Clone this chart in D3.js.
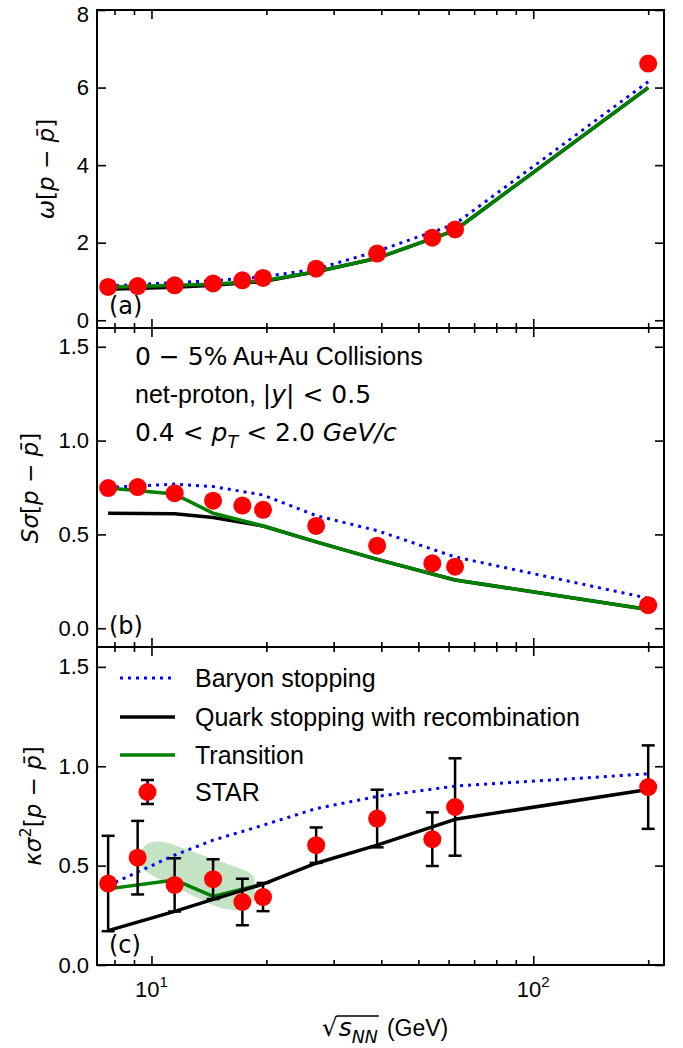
<!DOCTYPE html>
<html>
<head>
<meta charset="utf-8">
<script src="https://cdn.jsdelivr.net/npm/d3@7"></script>
<style>
  body { margin: 0; background: #fff; }
  svg { display: block; }
</style>
</head>
<body>
<div id="figure"></div>
<script>
//----------------------------------------------------------------
// données
//----------------------------------------------------------------
// énergies STAR (GeV)
var starEnergies = [7.7, 9.2, 11.5, 14.5, 17.3, 19.6, 27, 39, 54.4, 62.4, 200];
// énergies des modèles (GeV)
var modelEnergies = [7.7, 11.5, 14.5, 19.6, 27, 39, 62.4, 200];

// (a) omega
var omegaStar       = [0.86, 0.88, 0.90, 0.95, 1.03, 1.09, 1.33, 1.72, 2.13, 2.34, 6.62];
var omegaBaryon     = [0.88, 0.97, 1.02, 1.12, 1.32, 1.78, 2.48, 6.15];
var omegaQuark      = [0.80, 0.85, 0.90, 1.00, 1.25, 1.60, 2.32, 6.00];
var omegaTransition = [0.85, 0.90, 0.93, 1.02, 1.25, 1.60, 2.32, 6.00];

// (b) S sigma
var skewStar       = [0.747, 0.752, 0.72, 0.68, 0.654, 0.631, 0.545, 0.44, 0.346, 0.328, 0.123];
var skewBaryon     = [0.75, 0.768, 0.755, 0.71, 0.60, 0.52, 0.38, 0.16];
var skewQuark      = [0.613, 0.61, 0.59, 0.545, 0.46, 0.367, 0.257, 0.10];
var skewTransition = [0.747, 0.715, 0.613, 0.545, 0.46, 0.367, 0.257, 0.10];

// (c) kappa sigma^2
var kappaStar       = [0.41, 0.54, 0.403, 0.432, 0.317, 0.342, 0.603, 0.737, 0.633, 0.795, 0.895];
var kappaErr        = [0.24, 0.185, 0.134, 0.10, 0.117, 0.071, 0.089, 0.145, 0.135, 0.245, 0.21];
var kappaBaryon     = [0.40, 0.553, 0.628, 0.703, 0.787, 0.848, 0.90, 0.962];
var kappaQuark      = [0.173, 0.27, 0.33, 0.407, 0.512, 0.603, 0.733, 0.883];
var kappaTransition = [0.383, 0.428, 0.345, 0.407];   // 7.7 -> 19.6
// contour de la bande "Transition"
var bandX = [9.5, 9.9, 10.9, 14.5, 17.5, 18.4, 18.7, 18.5, 17.9, 17.2, 15.0, 12.5, 10.4, 9.6, 9.3];
var bandY = [0.59, 0.615, 0.617, 0.533, 0.478, 0.45, 0.40, 0.33, 0.285, 0.272, 0.29, 0.36, 0.435, 0.475, 0.53];

// ticks
var xMajor = [10, 100];
var xMinor = [8, 9, 20, 30, 40, 50, 60, 70, 80, 90, 200];
var legendLabels = ["Baryon stopping", "Quark stopping with recombination", "Transition", "STAR"];

//----------------------------------------------------------------
// mise en page
//----------------------------------------------------------------
var largeurSvg = 683, hauteurSvg = 1048;
var gauche = 97, droite = 664;
var TXT = "'Liberation Sans', Arial, sans-serif";
var MATH = "'DejaVu Sans', sans-serif";
var cBleu = "#0000ff", cVert = "#008000", cNoir = "#000000", cRouge = "#ff0000";

var svg = d3.select("#figure").append("svg")
    .attr("width", largeurSvg)
    .attr("height", hauteurSvg);

var x = d3.scaleLog().domain([7.2, 220]).range([gauche, droite]);

var panneaux = [
  {nom: "(a)", haut: 10, bas: 328, dom: [-0.2, 8], ticks: [0, 2, 4, 6, 8], fmt: d3.format("d"),
   labelX: 54, labelY: 169, labelBase: 314},
  {nom: "(b)", haut: 328, bas: 647, dom: [-0.1, 1.6], ticks: [0, 0.5, 1, 1.5], fmt: d3.format(".1f"),
   labelX: 38, labelY: 488, labelBase: 634},
  {nom: "(c)", haut: 647, bas: 965, dom: [0, 1.6], ticks: [0, 0.5, 1, 1.5], fmt: d3.format(".1f"),
   labelX: 41, labelY: 806, labelBase: 953}
];
panneaux.forEach(function(p){
  p.y = d3.scaleLinear().domain(p.dom).range([p.bas, p.haut]);
});

// texte riche : morceaux avec police / italique / indice / exposant
function texteRiche(sel, morceaux, taille) {
  var decal = 0;
  morceaux.forEach(function(m){
    var cible = m.sub ? 0.28 * taille : (m.sup ? -0.42 * taille : 0);
    var t = sel.append("tspan")
        .text(m.t)
        .attr("font-family", m.f === "t" ? TXT : MATH)
        .attr("font-style", m.i ? "italic" : "normal")
        .attr("font-size", (m.sub || m.sup) ? taille * 0.7 : taille);
    if (cible !== decal) { t.attr("dy", cible - decal); decal = cible; }
  });
}

var ligne = function(yScale, xs){
  return d3.line()
    .x(function(d, i){ return x(xs[i]); })
    .y(function(d){ return yScale(d); });
};

//----------------------------------------------------------------
// axes et cadres
//----------------------------------------------------------------
panneaux.forEach(function(p, k){
  var g = svg.append("g");

  g.append("g").attr("transform", "translate(0," + p.bas + ")")
    .call(d3.axisBottom(x).tickValues(xMajor).tickSize(-9).tickFormat(""));
  g.append("g").attr("transform", "translate(0," + p.bas + ")")
    .call(d3.axisBottom(x).tickValues(xMinor).tickSize(-5).tickFormat(""));
  g.append("g").attr("transform", "translate(0," + p.haut + ")")
    .call(d3.axisTop(x).tickValues(xMajor).tickSize(-9).tickFormat(""));
  g.append("g").attr("transform", "translate(0," + p.haut + ")")
    .call(d3.axisTop(x).tickValues(xMinor).tickSize(-5).tickFormat(""));
  var axeY = g.append("g").attr("transform", "translate(" + gauche + ",0)")
    .call(d3.axisLeft(p.y).tickValues(p.ticks).tickSize(-9).tickPadding(8).tickFormat(p.fmt));
  g.append("g").attr("transform", "translate(" + droite + ",0)")
    .call(d3.axisRight(p.y).tickValues(p.ticks).tickSize(-9).tickFormat(""));

  g.selectAll(".domain").remove();
  g.selectAll(".tick line").attr("stroke", "#000").attr("stroke-width", 1.6);
  g.selectAll(".tick text").attr("font-family", TXT).attr("font-size", 22).attr("fill", "#000");
  // le "8" du haut est légèrement descendu, comme sur la figure
  if (k === 0) {
    axeY.selectAll(".tick text").filter(function(d){ return d === 8; }).attr("dy", "0.5em");
  }

  // cadre
  g.append("rect")
    .attr("x", gauche).attr("y", p.haut)
    .attr("width", droite - gauche).attr("height", p.bas - p.haut)
    .attr("fill", "none").attr("stroke", "#000").attr("stroke-width", 2);

  // étiquette (a), (b), (c)
  svg.append("text")
    .attr("x", 109).attr("y", p.labelBase)
    .attr("font-family", MATH).attr("font-size", 24)
    .text(p.nom);
});

// titres des axes y
var titresY = [
  [{t: "ω", i: 1}, {t: "["}, {t: "p", i: 1}, {t: " − "}, {t: "p\u0304", i: 1}, {t: "]"}],
  [{t: "S", i: 1}, {t: "σ", i: 1}, {t: "["}, {t: "p", i: 1}, {t: " − "}, {t: "p\u0304", i: 1}, {t: "]"}],
  [{t: "κ", i: 1}, {t: "σ", i: 1}, {t: "2", sup: 1}, {t: "["}, {t: "p", i: 1}, {t: " − "}, {t: "p\u0304", i: 1}, {t: "]"}]
];
panneaux.forEach(function(p, k){
  var t = svg.append("text")
    .attr("transform", "translate(" + p.labelX + "," + p.labelY + ") rotate(-90)")
    .attr("text-anchor", "middle");
  texteRiche(t, titresY[k], 23);
});

// étiquettes de l'axe x (10^1, 10^2)
xMajor.forEach(function(v, i){
  var t = svg.append("text")
    .attr("x", x(v)).attr("y", 997)
    .attr("text-anchor", "middle")
    .attr("font-family", TXT).attr("font-size", 22);
  t.append("tspan").text("10");
  t.append("tspan").text(String(i + 1)).attr("font-size", 15).attr("dy", -10);
});

// titre de l'axe x : racine(s_NN) (GeV)
var gx = svg.append("g").attr("transform", "translate(0,1036)");
var racine = gx.append("text").attr("font-family", MATH).attr("font-size", 25).text("√");
var sNN = gx.append("text");
texteRiche(sNN, [{t: "s", i: 1}, {t: "NN", i: 1, sub: 1}], 25);
var gev = gx.append("text").attr("font-family", TXT).attr("font-size", 23).text("(GeV)");
var lr = racine.node().getComputedTextLength();
var ls = sNN.node().getComputedTextLength();
var lg = gev.node().getComputedTextLength();
var x0 = 385 - (lr + ls + 10 + lg) / 2;
racine.attr("x", x0);
sNN.attr("x", x0 + lr + 1);
gev.attr("x", x0 + lr + ls + 10);
gx.append("line")
  .attr("x1", x0 + lr - 1).attr("x2", x0 + lr + ls + 2)
  .attr("y1", -20).attr("y2", -20)
  .attr("stroke", "#000").attr("stroke-width", 1.3);

//----------------------------------------------------------------
// courbes et points
//----------------------------------------------------------------
function tracer(p, valeurs, xs, couleur, pointille) {
  svg.append("path")
    .datum(valeurs)
    .attr("d", ligne(p.y, xs))
    .attr("fill", "none")
    .attr("stroke", couleur)
    .attr("stroke-width", pointille ? 3 : 3.5)
    .attr("stroke-dasharray", pointille ? "3,5" : null)
    .attr("stroke-linejoin", "round");
}
function points(p, valeurs) {
  svg.append("g").selectAll("circle")
    .data(valeurs)
    .enter().append("circle")
      .attr("cx", function(d, i){ return x(starEnergies[i]); })
      .attr("cy", function(d){ return p.y(d); })
      .attr("r", 9)
      .attr("fill", cRouge);
}

// (a)
var pa = panneaux[0];
tracer(pa, omegaBaryon, modelEnergies, cBleu, true);
tracer(pa, omegaQuark, modelEnergies, cNoir, false);
tracer(pa, omegaTransition, modelEnergies, cVert, false);
points(pa, omegaStar);

// (b)
var pb = panneaux[1];
tracer(pb, skewBaryon, modelEnergies, cBleu, true);
tracer(pb, skewQuark, modelEnergies, cNoir, false);
tracer(pb, skewTransition, modelEnergies, cVert, false);
points(pb, skewStar);

// (c)
var pc = panneaux[2];
svg.append("path")
  .datum(bandX.map(function(v, i){ return [v, bandY[i]]; }))
  .attr("d", d3.line()
      .x(function(d){ return x(d[0]); })
      .y(function(d){ return pc.y(d[1]); })
      .curve(d3.curveCardinalClosed.tension(0.3)))
  .attr("fill", cVert)
  .attr("fill-opacity", 0.23)
  .attr("stroke", "none");
tracer(pc, kappaBaryon, modelEnergies, cBleu, true);
tracer(pc, kappaTransition, modelEnergies.slice(0, kappaTransition.length), cVert, false);
tracer(pc, kappaQuark, modelEnergies, cNoir, false);

// barres d'erreur
var eb = svg.append("g").attr("stroke", "#000").attr("stroke-width", 2.5);
kappaStar.forEach(function(v, i){
  var cx = x(starEnergies[i]);
  var y1 = pc.y(v + kappaErr[i]), y2 = pc.y(v - kappaErr[i]);
  eb.append("line").attr("x1", cx).attr("x2", cx).attr("y1", y1).attr("y2", y2);
  eb.append("line").attr("x1", cx - 6.5).attr("x2", cx + 6.5).attr("y1", y1).attr("y2", y1);
  eb.append("line").attr("x1", cx - 6.5).attr("x2", cx + 6.5).attr("y1", y2).attr("y2", y2);
});
points(pc, kappaStar);

//----------------------------------------------------------------
// légende (panneau c)
//----------------------------------------------------------------
var legY = [678, 717, 755, 792];
var leg = svg.append("g");
leg.append("line").attr("x1", 120).attr("x2", 175).attr("y1", legY[0]).attr("y2", legY[0])
  .attr("stroke", cBleu).attr("stroke-width", 3).attr("stroke-dasharray", "3,5");
leg.append("line").attr("x1", 120).attr("x2", 175).attr("y1", legY[1]).attr("y2", legY[1])
  .attr("stroke", cNoir).attr("stroke-width", 3.5);
leg.append("line").attr("x1", 120).attr("x2", 175).attr("y1", legY[2]).attr("y2", legY[2])
  .attr("stroke", cVert).attr("stroke-width", 3.5);
var lx = 147.5;
leg.append("line").attr("x1", lx).attr("x2", lx).attr("y1", legY[3] - 12).attr("y2", legY[3] + 12)
  .attr("stroke", "#000").attr("stroke-width", 2.5);
leg.append("line").attr("x1", lx - 6.5).attr("x2", lx + 6.5).attr("y1", legY[3] - 12).attr("y2", legY[3] - 12)
  .attr("stroke", "#000").attr("stroke-width", 2.5);
leg.append("line").attr("x1", lx - 6.5).attr("x2", lx + 6.5).attr("y1", legY[3] + 12).attr("y2", legY[3] + 12)
  .attr("stroke", "#000").attr("stroke-width", 2.5);
leg.append("circle").attr("cx", lx).attr("cy", legY[3]).attr("r", 9).attr("fill", cRouge);
leg.selectAll("text.leg")
  .data(legendLabels)
  .enter().append("text")
    .attr("class", "leg")
    .attr("x", 195)
    .attr("y", function(d, i){ return legY[i] + 9; })
    .attr("font-family", TXT).attr("font-size", 25)
    .text(function(d){ return d; });

//----------------------------------------------------------------
// annotation (panneau b)
//----------------------------------------------------------------
var notes = [
  [{t: "0 − 5%"}, {t: " Au+Au Collisions", f: "t"}],
  [{t: "net-proton, ", f: "t"}, {t: "|"}, {t: "y", i: 1}, {t: "| < 0.5"}],
  [{t: "0.4 < "}, {t: "p", i: 1}, {t: "T", i: 1, sub: 1}, {t: " < 2.0 "}, {t: "GeV/c", i: 1}]
];
var noteBase = [365, 403, 441];
notes.forEach(function(n, i){
  var t = svg.append("text").attr("x", 135).attr("y", noteBase[i]);
  texteRiche(t, n, 25);
});
</script>
</body>
</html>
